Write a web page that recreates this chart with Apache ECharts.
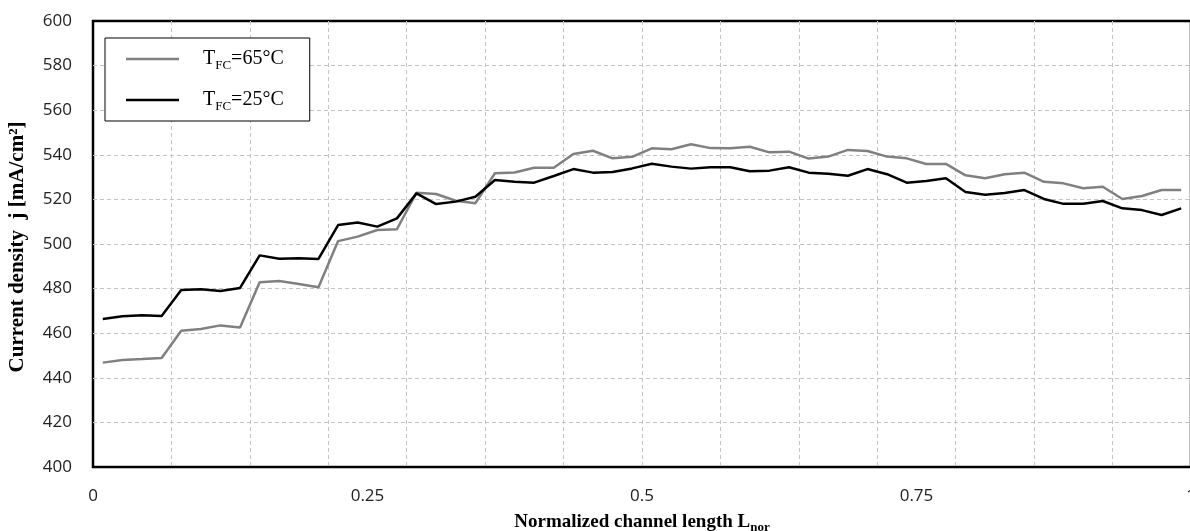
<!DOCTYPE html>
<html>
<head>
<meta charset="utf-8">
<script src="https://cdn.jsdelivr.net/npm/echarts@6/dist/echarts.min.js"></script>
<style>
  html, body { margin: 0; padding: 0; background: #fff; }
  #chart { width: 1190px; height: 531px; }
</style>
</head>
<body>
<div id="chart"></div>
<script>
// 56 sampling positions along the channel (centres of equal segments)
const categories = Array.from({ length: 56 }, (_, i) => ((i + 0.5) / 56).toFixed(4));

const temp65 = [
  446.8, 448.0, 448.4, 448.9, 461.1, 461.9, 463.5, 462.6,
  482.8, 483.4, 482.1, 480.6, 501.3, 503.3, 506.3, 506.6,
  523.0, 522.4, 519.4, 518.3, 531.7, 532.1, 534.2, 534.2,
  540.4, 541.8, 538.4, 539.1, 542.9, 542.5, 544.7, 543.0,
  542.9, 543.6, 541.1, 541.4, 538.3, 539.2, 542.2, 541.7,
  539.2, 538.4, 535.9, 535.9, 530.8, 529.5, 531.3, 532.0,
  527.9, 527.2, 525.0, 525.7, 520.2, 521.5, 524.2, 524.2
];

const temp25 = [
  466.4, 467.6, 468.0, 467.7, 479.4, 479.7, 478.9, 480.3,
  494.9, 493.4, 493.6, 493.3, 508.5, 509.6, 507.8, 511.5,
  522.7, 517.9, 519.0, 521.2, 528.7, 527.9, 527.5, 530.5,
  533.6, 532.0, 532.3, 533.9, 536.0, 534.7, 533.8, 534.4,
  534.4, 532.6, 532.9, 534.4, 532.0, 531.5, 530.6, 533.6,
  531.3, 527.5, 528.3, 529.5, 523.3, 522.1, 522.9, 524.2,
  520.2, 518.0, 518.0, 519.3, 516.0, 515.2, 513.0, 516.0
];

const seriesNames = ["T_FC=65°C", "T_FC=25°C"];
const xTickLabels = { 0: "0", 0.25: "0.25", 0.5: "0.5", 0.75: "0.75", 1: "1" };

const serif = "'Liberation Serif', 'Times New Roman', serif";
const sans = "'Open Sans', 'Noto Sans', sans-serif";
const gridDash = { color: "#c4c4c4", width: 1, type: [4, 3] };

const chart = echarts.init(document.getElementById("chart"));

const option = {
  animation: false,
  backgroundColor: "#fff",
  grid: {
    left: 93,
    top: 21,
    width: 1098,
    height: 446,
    show: true,
    borderColor: "#000",
    borderWidth: 2.5,
    containLabel: false,
    outerBoundsMode: "none",
  },
  legend: {
    orient: "vertical",
    left: 105,
    top: 38,
    padding: [8, 26, 8, 21],
    icon: "rect",
    itemWidth: 53,
    itemHeight: 2.5,
    itemGap: 15,
    borderColor: "#000",
    borderWidth: 1,
    backgroundColor: "#fff",
    data: seriesNames,
    formatter: (name) => {
      const rest = name.replace("T_FC", "");
      return "{p|T}{s|FC}{t|" + rest + "}";
    },
    textStyle: {
      rich: {
        p: { fontFamily: serif, fontSize: 20, color: "#000", lineHeight: 24, padding: [0, 0, 0, 19], verticalAlign: "middle" },
        t: { fontFamily: serif, fontSize: 20, color: "#000", lineHeight: 24, verticalAlign: "middle" },
        s: { fontFamily: serif, fontSize: 13, color: "#000", lineHeight: 14, padding: [13, 0, 0, 0], verticalAlign: "middle" },
      },
    },
  },
  xAxis: [
    {
      type: "category",
      data: categories,
      boundaryGap: true,
      axisLine: { show: false },
      axisTick: { show: false },
      axisLabel: { show: false },
      splitLine: { show: true, interval: 3, showMinLine: false, showMaxLine: false, lineStyle: gridDash },
    },
    {
      type: "value",
      position: "bottom",
      min: 0,
      max: 1,
      interval: 0.25,
      axisLine: { show: false },
      axisTick: { show: false },
      splitLine: { show: false },
      axisLabel: {
        margin: 21,
        fontFamily: sans,
        fontSize: 17,
        color: "#222",
        formatter: (v) => xTickLabels[v] ?? String(v),
      },
      name: "{t|Normalized channel length L}{s|nor}",
      nameLocation: "middle",
      nameGap: 37,
      nameTextStyle: {
        rich: {
          t: { fontFamily: serif, fontWeight: "bold", fontSize: 19, color: "#000", lineHeight: 24, verticalAlign: "middle" },
          s: { fontFamily: serif, fontWeight: "bold", fontSize: 13, color: "#000", lineHeight: 14, padding: [11, 0, 0, 0], verticalAlign: "middle" },
        },
      },
    },
  ],
  yAxis: {
    type: "value",
    min: 400,
    max: 600,
    interval: 20,
    axisLine: { show: false },
    axisTick: { show: false },
    axisLabel: { margin: 21, fontFamily: sans, fontSize: 17, color: "#222" },
    splitLine: { show: true, showMinLine: false, showMaxLine: false, lineStyle: gridDash },
    name: "Current density  j [mA/cm²]",
    nameLocation: "middle",
    nameGap: 65,
    nameTextStyle: { fontFamily: serif, fontWeight: "bold", fontSize: 21, color: "#000", padding: [0, 6, 0, 0] },
  },
  series: [
    {
      name: seriesNames[0],
      type: "line",
      xAxisIndex: 0,
      data: temp65,
      symbol: "none",
      lineStyle: { color: "#808080", width: 2.5 },
      itemStyle: { color: "#808080" },
    },
    {
      name: seriesNames[1],
      type: "line",
      xAxisIndex: 0,
      data: temp25,
      symbol: "none",
      lineStyle: { color: "#000", width: 2.5 },
      itemStyle: { color: "#000" },
    },
  ],
};

chart.setOption(option);
</script>
</body>
</html>
